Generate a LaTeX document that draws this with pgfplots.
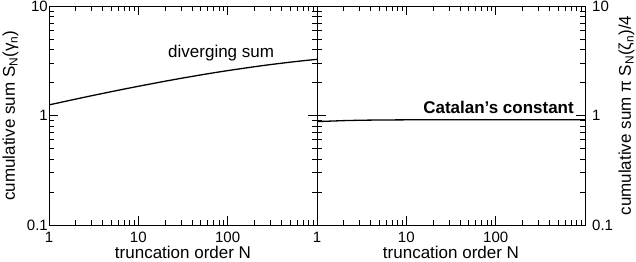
\documentclass[border=0pt]{standalone}
\usepackage{fontspec}
\setmainfont{Liberation Sans}
\usepackage{pgfplots}
\pgfplotsset{compat=1.18}
\pgfplotstableread{
N S
1 1.250
2 1.413
3 1.516
5 1.652
7 1.746
10 1.849
20 2.058
30 2.185
50 2.347
70 2.456
100 2.570
200 2.791
300 2.917
500 3.069
700 3.164
1000 3.258
}\divsum
\pgfplotstableread{
N S
1 0.880
2 0.898
3 0.905
5 0.910
10 0.913
30 0.915
100 0.916
1000 0.916
}\catalan
\pgfplotsset{
 twopanel/.style={
  scale only axis, width=268pt, height=219pt,
  xmin=1, xmax=1000, ymin=0.1, ymax=10,
  xtick={1,10,100,1000}, xticklabels={1,10,100,{}},
  ytick={0.1,1,10}, yticklabels={0.1,1,10},
  tick pos=both, xticklabel pos=lower,
  tick align=inside,
  major tick length=9pt, minor tick length=5pt,
  font=\fontsize{17}{20}\selectfont,
  every tick label/.append style={font=\fontsize{15}{18}\selectfont},
  xticklabel style={inner sep=0pt, anchor=north, yshift=-7pt},
  /pgf/number format/assume math mode=true,
  xlabel={truncation order N},
  xlabel style={at={(axis description cs:0.5,0)}, anchor=base, yshift=-33.5pt, inner sep=0pt},
  axis line style={line width=1pt},
  every tick/.style={black, line width=0.8pt},
 }
}
\begin{document}
\begin{tikzpicture}
\begin{loglogaxis}[twopanel, name=L,
  ylabel={cumulative sum S\textsubscript{N}(γ\textsubscript{n})},
  yticklabel pos=left,
  yticklabel style={inner sep=0pt, anchor=east, xshift=-1pt},
  ylabel style={at={(axis description cs:-0.127,0.5)}, anchor=base, rotate=0, inner sep=0pt}]
\addplot[black, line width=1.3pt] table[x=N, y=S] {\divsum};
\node[font=\fontsize{17}{20}\selectfont, anchor=base west, inner sep=0pt] at (axis cs:21.5,3.42) {diverging sum};
\end{loglogaxis}
\begin{loglogaxis}[twopanel, name=R, at={(L.south east)}, anchor=south west,
  ylabel={cumulative sum π S\textsubscript{N}(ζ\textsubscript{n})/4},
  yticklabel pos=right,
  yticklabel style={inner sep=0pt, anchor=west, xshift=7pt},
  ylabel style={at={(axis description cs:1.1716,0.5)}, anchor=base, inner sep=0pt}]
\addplot[black, line width=1.3pt] table[x=N, y=S] {\catalan};
\node[font=\fontsize{17}{20}\selectfont\bfseries, anchor=base west, inner sep=0pt] at (axis cs:15.4,1.047) {Catalan’s constant};
\end{loglogaxis}
\pgfresetboundingbox
\path[use as bounding box] ([xshift=-49pt,yshift=-36pt]L.south west) rectangle ([xshift=51pt,yshift=6pt]R.north east);
\end{tikzpicture}
\end{document}
